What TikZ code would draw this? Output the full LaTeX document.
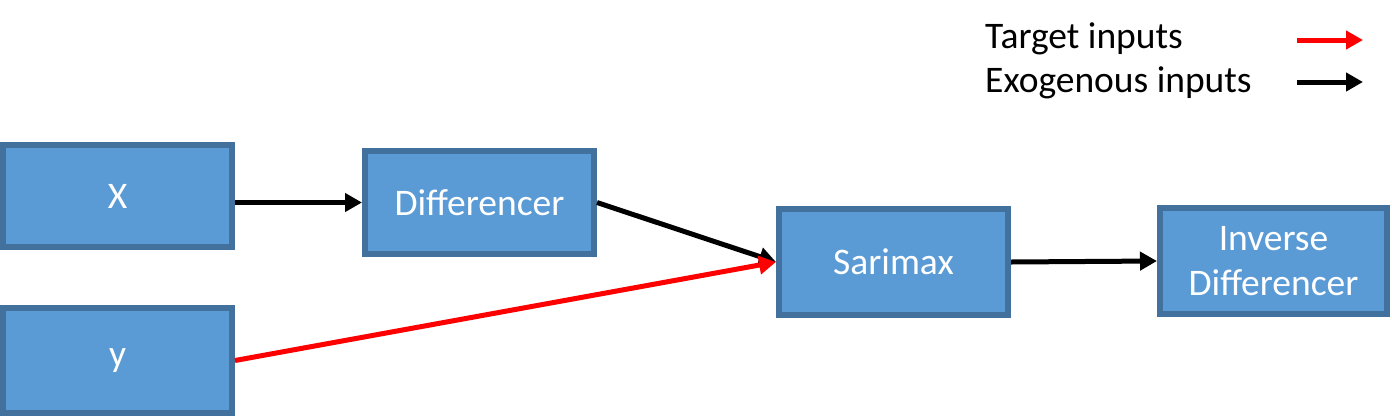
\documentclass[tikz,border=0pt]{standalone}
\usepackage{fontspec}
\setmainfont{Carlito}
\usetikzlibrary{arrows.meta}
\definecolor{boxfill}{HTML}{5B9BD5}
\definecolor{boxline}{HTML}{41719C}
\tikzset{
  box/.style={draw=boxline, fill=boxfill, line width=6pt, text=white, inner sep=0pt,
    align=center, font=\fontsize{37.5}{45}\selectfont},
  arr/.style={line width=5pt, -{Triangle[length=17pt,width=18pt]}},
  legendtext/.style={anchor=base west, inner sep=0pt, font=\fontsize{37.5}{45}\selectfont}
}
\begin{document}
\begin{tikzpicture}[x=1pt,y=-1pt]
\useasboundingbox (0,0) rectangle (1392,416);
\node[box, minimum width=229pt, minimum height=102pt] (X) at (117.5,196) {X};
\node[box, minimum width=229pt, minimum height=105pt] (Y) at (117.5,360.5) {y};
\node[box, minimum width=229pt, minimum height=103pt] (D) at (479.5,202.5) {Differencer};
\node[box, minimum width=229pt, minimum height=106pt] (S) at (893.5,262) {Sarimax};
\node[box, minimum width=227pt, minimum height=106pt] (I) at (1273.5,261) {Inverse\\Differencer};
\draw[arr] (X.east |- D.west) -- (D.west);
\draw[arr] (D.east) -- (S.west);
\draw[arr, red] (Y.east) -- (S.west);
\draw[arr] (S.east) -- (I.west);
\node[legendtext] (T1) at (985,48) {Target inputs};
\node[legendtext] (T2) at (985,92) {Exogenous inputs};
\coordinate (r1) at (1297,40);
\coordinate (r2) at (1363,40);
\coordinate (b1) at (1297,82);
\coordinate (b2) at (1363,82);
\draw[arr, red] (r1) -- (r2);
\draw[arr] (b1) -- (b2);
\end{tikzpicture}
\end{document}
